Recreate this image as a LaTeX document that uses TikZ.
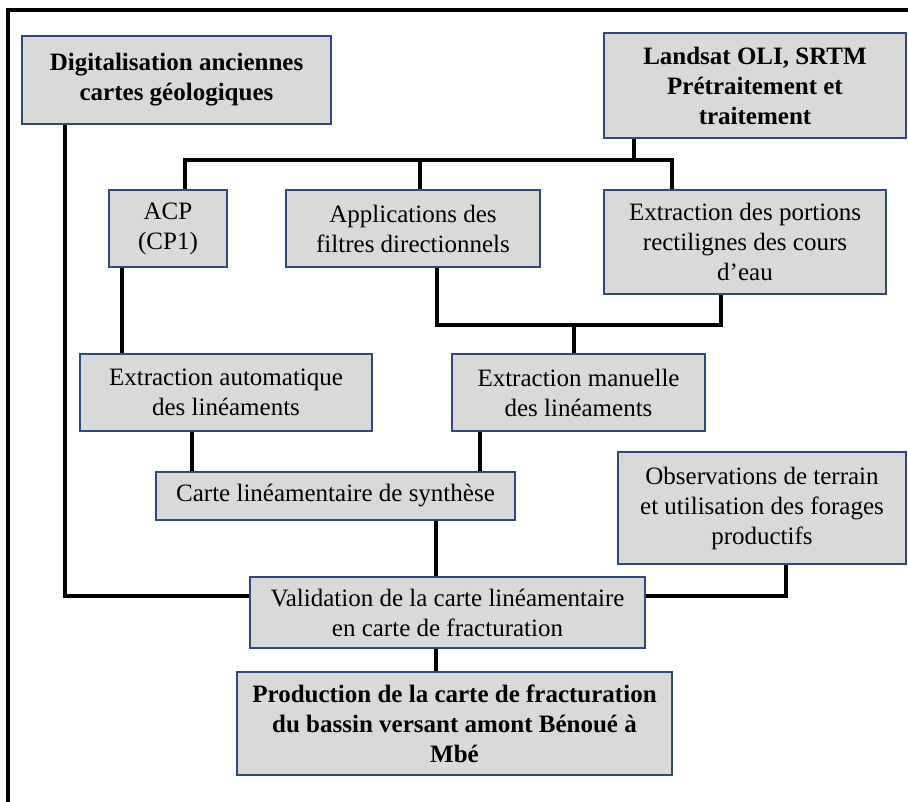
\documentclass[tikz,border=0pt]{standalone}
\usepackage{fontspec}
\setmainfont{Liberation Serif}
\usetikzlibrary{calc}
\definecolor{boxfill}{HTML}{D9D9D9}
\definecolor{boxline}{HTML}{2F4B7C}
\tikzset{
  box/.style={draw=boxline, line width=1.5pt, fill=boxfill, inner sep=0pt,
    align=center, font=\fontsize{25}{30}\selectfont},
  boldbox/.style={box, font=\fontsize{25}{30}\selectfont\bfseries},
  conn/.style={draw=black, line width=4pt},
  frame/.style={draw=black, line width=4pt}
}
\begin{document}
\begin{tikzpicture}[x=1pt,y=-1pt]
\useasboundingbox (0,0) rectangle (908,802);
\draw[frame] (8,820) -- (8,10) -- (930,10);

\node[boldbox, minimum width=309pt, minimum height=88pt] (dig) at (176.5,80)
  {Digitalisation anciennes\\cartes géologiques};
\node[boldbox, minimum width=302pt, minimum height=105pt] (land) at (755,85.5)
  {Landsat OLI, SRTM\\Prétraitement et\\traitement};
\node[box, minimum width=118pt, minimum height=77pt] (acp) at (168,228.5)
  {ACP\\(CP1)};
\node[box, minimum width=254pt, minimum height=77pt] (app) at (413,228.5)
  {Applications des\\filtres directionnels};
\node[box, minimum width=282pt, minimum height=104pt] (ext) at (745,242)
  {Extraction des portions\\rectilignes des cours\\d’eau};
\node[box, minimum width=292pt, minimum height=77pt] (auto) at (226,392.5)
  {Extraction automatique\\des linéaments};
\node[box, minimum width=253pt, minimum height=77pt] (man) at (578.5,392.5)
  {Extraction manuelle\\des linéaments};
\node[box, minimum width=359pt, minimum height=48pt] (carte) at (335.5,496)
  {Carte linéamentaire de synthèse};
\node[box, minimum width=288pt, minimum height=112pt] (obs) at (762,508)
  {Observations de terrain\\et utilisation des forages\\productifs};
\node[box, minimum width=395pt, minimum height=71pt] (val) at (447.5,612.5)
  {Validation de la carte linéamentaire\\en carte de fracturation};
\node[boldbox, minimum width=435pt, minimum height=103pt] (prod) at (454.5,723.5)
  {Production de la carte de fracturation\\du bassin versant amont Bénoué à\\Mbé};

% helper points on box edges
\path (dig.south west) ++(44,0) coordinate (digS);
\path (val.north west) ++(0,20) coordinate (valW);
\path (val.north east) ++(0,20) coordinate (valE);
\path (land.south west) ++(31,0) coordinate (landS);
\path (acp.north west) ++(77,0) coordinate (acpN);
\path (app.north west) ++(135,0) coordinate (appN);
\path (ext.north west) ++(69,0) coordinate (extN);
\path (app.south west) ++(152,0) coordinate (appS);
\path (ext.south west) ++(118,0) coordinate (extS);
\path (man.north west) ++(123,0) coordinate (manN);
\path (acp.south west) ++(14,0) coordinate (acpS);
\path (auto.south west) ++(113,0) coordinate (autoS);
\path (man.south west) ++(29,0) coordinate (manS);
\path (carte.south west) ++(281,0) coordinate (carteS);
\path (val.south west) ++(187,0) coordinate (valS);
\path (obs.south west) ++(169,0) coordinate (obsS);
\coordinate (busA) at (0,160);
\coordinate (busB) at (0,325);

% connectors
\draw[conn] (digS) |- (valW);
\draw[conn] (landS) -- (landS |- busA);
\draw[conn] (acpN) -- (acpN |- busA) -- (extN |- busA) -- (extN);
\draw[conn] (appN) -- (appN |- busA);
\draw[conn] (appS) -- (appS |- busB) -- (extS |- busB) -- (extS);
\draw[conn] (manN) -- (manN |- busB);
\draw[conn] (acpS) -- (acpS |- auto.north);
\draw[conn] (autoS) -- (autoS |- carte.north);
\draw[conn] (manS) -- (manS |- carte.north);
\draw[conn] (carteS) -- (carteS |- val.north);
\draw[conn] (valS) -- (valS |- prod.north);
\draw[conn] (obsS) |- (valE);
\end{tikzpicture}
\end{document}
